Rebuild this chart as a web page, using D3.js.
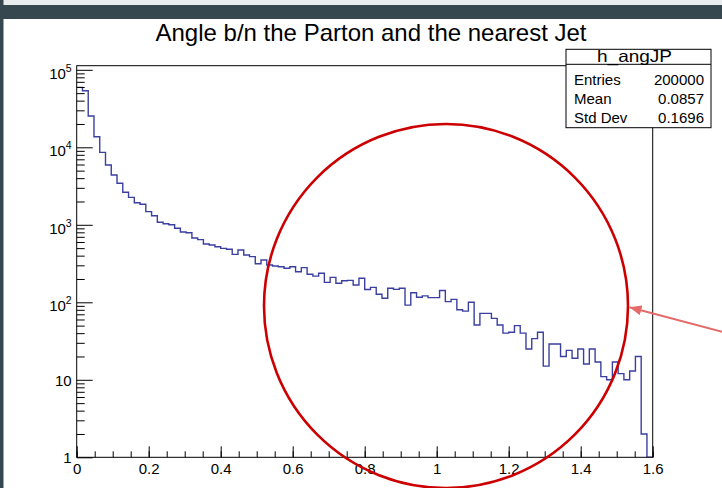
<!DOCTYPE html>
<html>
<head>
<meta charset="utf-8">
<script src="https://cdn.jsdelivr.net/npm/d3@7"></script>
<style>
  html, body { margin: 0; padding: 0; background: #ffffff; }
  svg { display: block; font-family: "Liberation Sans", Arial, sans-serif; }
</style>
</head>
<body>
<svg id="chart" width="722" height="488"></svg>
<script>
// h_angJP: angle between the parton and the nearest jet, 100 bins on [0, 1.6]
const histName = "h_angJP";
const histTitle = "Angle b/n the Parton and the nearest Jet";
const xRange = [0, 1.6];
const nBins = 100;
const counts = [
  59400, 53700, 25400, 13700, 8610, 5910, 4390, 3430, 2630, 2260,
  1930, 1840, 1480, 1310, 1080, 1030, 1000, 901, 808, 790,
  675, 643, 565, 549, 522, 497, 483, 416, 473, 408,
  388, 315, 352, 303, 294, 288, 275, 288, 248, 280,
  230, 218, 237, 181, 210, 176, 190, 192, 167, 204,
  146, 156, 127, 113, 152, 147, 152, 92, 133, 116,
  121, 115, 115, 142, 102, 109, 80, 77, 100, 51,
  72, 72, 62, 51, 40, 41, 50, 40, 25, 34,
  41, 15, 29, 29, 20, 24, 19, 25, 16, 25,
  17, 11, 10, 17, 12, 10, 13, 20, 2, 0
];
const statLabels = ["Entries", "Mean", "Std Dev"];
const statValues = ["200000", "0.0857", "0.1696"];
const xTicksMajor = [0, 0.2, 0.4, 0.6, 0.8, 1, 1.2, 1.4, 1.6];
const xTickLabels = ["0", "0.2", "0.4", "0.6", "0.8", "1", "1.2", "1.4", "1.6"];
const yDecades = [1, 10, 100, 1000, 10000, 100000];
const yMax = 1.13e5;

const svg = d3.select("#chart");

// window chrome: dark header strip and left edge
svg.append("rect").attr("x", 0).attr("y", 0).attr("width", 722).attr("height", 5).attr("fill", "#e9ecee");
svg.append("rect").attr("x", 0).attr("y", 5).attr("width", 722).attr("height", 14).attr("fill", "#37474f");
svg.append("rect").attr("x", 0).attr("y", 0).attr("width", 3.5).attr("height", 488).attr("fill", "#37474f");

const frame = { left: 76.7, right: 652.7, top: 65.7, bottom: 457.3 };

const x = d3.scaleLinear().domain(xRange).range([frame.left, frame.right]);
const y = d3.scaleLog().domain([1, yMax]).range([frame.bottom, frame.top]);

// title
svg.append("text")
  .attr("x", 371).attr("y", 41)
  .attr("text-anchor", "middle")
  .attr("font-size", 24)
  .attr("fill", "#000")
  .text(histTitle);

// histogram outline
const binW = (xRange[1] - xRange[0]) / nBins;
const pts = [];
counts.forEach((c, i) => {
  const lo = xRange[0] + i * binW, hi = lo + binW;
  pts.push([lo, c], [hi, c]);
});
svg.append("clipPath").attr("id", "frameClip")
  .append("rect")
  .attr("x", frame.left).attr("y", frame.top)
  .attr("width", frame.right - frame.left).attr("height", frame.bottom - frame.top);

const line = d3.line()
  .x(d => x(d[0]))
  .y(d => y(Math.max(d[1], 1)));

svg.append("path")
  .attr("clip-path", "url(#frameClip)")
  .attr("d", line(pts))
  .attr("fill", "none")
  .attr("stroke", "#3a3fa0")
  .attr("stroke-width", 1.4);

// frame
svg.append("rect")
  .attr("x", frame.left).attr("y", frame.top)
  .attr("width", frame.right - frame.left).attr("height", frame.bottom - frame.top)
  .attr("fill", "none").attr("stroke", "#000").attr("stroke-width", 1);

// x axis: major and minor ticks pointing into the frame
const xMinor = d3.range(0, 1.6001, 0.05).map(v => +v.toFixed(2));
svg.append("g")
  .attr("transform", `translate(0,${frame.bottom})`)
  .call(d3.axisBottom(x).tickValues(xMinor).tickSize(-6).tickFormat(""))
  .call(g => g.select(".domain").remove());
const xAxis = svg.append("g")
  .attr("transform", `translate(0,${frame.bottom})`)
  .call(d3.axisBottom(x).tickValues(xTicksMajor).tickSize(-11).tickPadding(6)
    .tickFormat((d, i) => xTickLabels[i]));
xAxis.select(".domain").remove();
xAxis.selectAll("text").attr("font-size", 15).attr("font-family", "Liberation Sans, Arial, sans-serif").attr("fill", "#000");
svg.selectAll(".tick line").attr("stroke", "#000");

// y axis: decades with 2..9 minor ticks
const yMinor = [];
yDecades.forEach(d => { for (let k = 2; k <= 9; k++) if (d * k <= yMax) yMinor.push(d * k); });
svg.append("g")
  .attr("transform", `translate(${frame.left},0)`)
  .call(d3.axisLeft(y).tickValues(yMinor).tickSize(-8).tickFormat(""))
  .call(g => g.select(".domain").remove());
const yAxis = svg.append("g")
  .attr("transform", `translate(${frame.left},0)`)
  .call(d3.axisLeft(y).tickValues(yDecades).tickSize(-16).tickPadding(5).tickFormat(""));
yAxis.select(".domain").remove();
yAxis.selectAll(".tick").each(function(d) {
  const t = d3.select(this).select("text");
  t.attr("font-size", 15).attr("font-family", "Liberation Sans, Arial, sans-serif").attr("fill", "#000");
  const e = Math.round(Math.log10(d));
  if (e <= 1) {
    t.attr("dy", "0.36em").text(e === 0 ? "1" : "10");
  } else {
    t.attr("dy", null).attr("y", 8.5).text(null);
    t.append("tspan").text("10");
    t.append("tspan").attr("font-size", 10.5).attr("dy", -7).text(String(e));
  }
});
svg.selectAll(".tick line").attr("stroke", "#000");

// statistics box
const box = { x: 566, y: 49.3, w: 145, h: 78.4, titleH: 15 };
const sb = svg.append("g");
sb.append("rect").attr("x", box.x).attr("y", box.y).attr("width", box.w).attr("height", box.h)
  .attr("fill", "#fff").attr("stroke", "#000").attr("stroke-width", 1);
sb.append("line").attr("x1", box.x).attr("x2", box.x + box.w)
  .attr("y1", box.y + box.titleH).attr("y2", box.y + box.titleH).attr("stroke", "#000");
sb.append("text").attr("x", 597).attr("y", box.y + 12.3)
  .attr("font-size", 16.5)
  .attr("textLength", 75).attr("lengthAdjust", "spacingAndGlyphs")
  .text(histName);
statLabels.forEach((lab, i) => {
  const by = 85 + i * 18.85;
  sb.append("text").attr("x", 574).attr("y", by).attr("font-size", 15).text(lab);
  sb.append("text").attr("x", 704).attr("y", by).attr("text-anchor", "end").attr("font-size", 15).text(statValues[i]);
});

// highlight circle and pointer arrow
svg.append("defs").append("marker")
  .attr("id", "arrowHead").attr("viewBox", "0 0 12 10")
  .attr("refX", 12).attr("refY", 5)
  .attr("markerWidth", 12).attr("markerHeight", 10)
  .attr("markerUnits", "userSpaceOnUse")
  .attr("orient", "auto")
  .append("path").attr("d", "M0,0 L12,5 L0,10 Z").attr("fill", "#e46a6a");

svg.append("circle")
  .attr("cx", 446).attr("cy", 306).attr("r", 182)
  .attr("fill", "none").attr("stroke", "#cc0000").attr("stroke-width", 2.6);

svg.append("line")
  .attr("x1", 724).attr("y1", 332.2).attr("x2", 629.5).attr("y2", 307.3)
  .attr("stroke", "#e46a6a").attr("stroke-width", 2)
  .attr("marker-end", "url(#arrowHead)");
</script>
</body>
</html>
